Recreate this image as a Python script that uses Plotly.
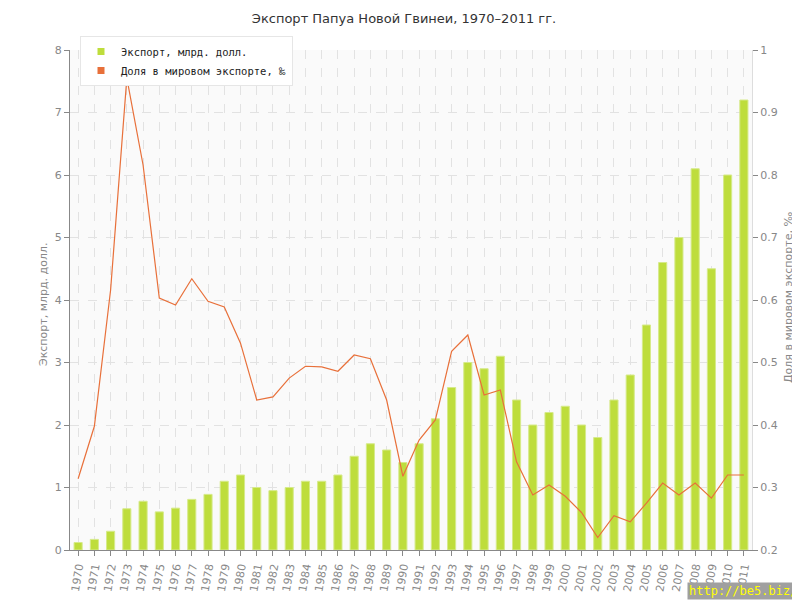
import plotly.graph_objects as go

years = [str(y) for y in range(1970, 2012)]
export_bn = [0.12, 0.17, 0.3, 0.66, 0.78, 0.61, 0.67, 0.81, 0.89, 1.1,
             1.2, 1.0, 0.95, 1.0, 1.1, 1.1, 1.2, 1.5, 1.7, 1.6,
             1.4, 1.7, 2.1, 2.6, 3.0, 2.9, 3.1, 2.4, 2.0, 2.2,
             2.3, 2.0, 1.8, 2.4, 2.8, 3.6, 4.6, 5.0, 6.1, 4.5,
             6.0, 7.2]
share_permille = [0.314, 0.398, 0.616, 0.955, 0.816, 0.603, 0.592, 0.634, 0.598, 0.589,
                  0.531, 0.44, 0.445, 0.475, 0.494, 0.493, 0.486, 0.512, 0.506, 0.44,
                  0.318, 0.376, 0.408, 0.518, 0.544, 0.448, 0.456, 0.341, 0.288, 0.304,
                  0.286, 0.26, 0.22, 0.255, 0.245, 0.275, 0.307, 0.288, 0.307, 0.283,
                  0.32, 0.32]

bar_color = "#bedd3c"
line_color = "#e8703a"
grey = "#888888"
name_bar = "Экспорт, млрд. долл."
name_line = "Доля в мировом экспорте, ‰"

fig = go.Figure()
fig.add_trace(go.Bar(
    x=years, y=export_bn, name=name_bar, showlegend=False,
    marker=dict(color=bar_color, line=dict(color="#d6ea8a", width=1)),
    yaxis="y",
))
fig.add_trace(go.Scatter(
    x=years, y=share_permille, name=name_line, showlegend=False,
    mode="lines", line=dict(color=line_color, width=1.2),
    yaxis="y2",
))
# legend-only entries with square markers
for nm, col in [(name_bar, bar_color), (name_line, line_color)]:
    fig.add_trace(go.Scatter(
        x=[None], y=[None], name=nm, mode="markers",
        marker=dict(symbol="square", size=7, color=col),
    ))

W, H = 792, 592  # page has 8px body margin
L, R, T, B = 62, 48, 42, 50
pw = W - L - R
ph = H - T - B

def px_x(x_screen):
    return (x_screen - 8 - L) / pw

def px_y(y_screen):
    return 1 - (y_screen - 8 - T) / ph

axis_title_font = dict(family="DejaVu Sans", size=11, color=grey)

fig.update_layout(
    width=W, height=H,
    paper_bgcolor="white", plot_bgcolor="#fafafa",
    margin=dict(l=L, r=R, t=T, b=B, autoexpand=False),
    bargap=0.5,
    showlegend=True,
    title=dict(text="Экспорт Папуа Новой Гвинеи, 1970–2011 гг.",
               x=0.5, xanchor="center", y=1 - 10 / H, yanchor="middle",
               font=dict(family="DejaVu Sans", size=13, color="#333333")),
    legend=dict(x=px_x(80), y=px_y(36), xanchor="left", yanchor="top",
                bgcolor="white", bordercolor="#e6e6e6", borderwidth=1,
                font=dict(family="DejaVu Sans Mono", size=10.5, color="#222222"),
                itemwidth=30, tracegroupgap=0),
    xaxis=dict(
        type="category", showgrid=True, gridcolor="#e2e2e2", griddash="dash",
        tickangle=-80, tickfont=dict(family="DejaVu Sans", size=11, color=grey),
        showline=True, linecolor=grey, ticks="outside", ticklen=5, tickcolor=grey,
        zeroline=False, automargin=False,
    ),
    yaxis=dict(
        range=[0, 8], dtick=1, showgrid=True, gridcolor="#e2e2e2", griddash="dash",
        tickfont=dict(family="DejaVu Sans", size=11, color=grey),
        showline=True, linecolor=grey, ticks="outside", ticklen=5, tickcolor=grey,
        zeroline=False, automargin=False,
    ),
    yaxis2=dict(
        range=[0.2, 1.0], dtick=0.1, overlaying="y", side="right", showgrid=False,
        tickfont=dict(family="DejaVu Sans", size=11, color=grey),
        showline=True, linecolor="#dddddd", ticks="outside", ticklen=5, tickcolor=grey,
        zeroline=False, automargin=False,
    ),
    annotations=[
        dict(text=name_bar, xref="paper", yref="paper", x=px_x(43), y=px_y(305),
             xanchor="center", yanchor="middle", textangle=-90, showarrow=False,
             font=axis_title_font),
        dict(text=name_line, xref="paper", yref="paper", x=px_x(788), y=px_y(298),
             xanchor="center", yanchor="middle", textangle=-90, showarrow=False,
             font=axis_title_font),
        dict(text="http://be5.biz/", xref="paper", yref="paper", x=px_x(799), y=px_y(600),
             xanchor="right", yanchor="bottom", showarrow=False,
             font=dict(family="DejaVu Sans Mono", size=12, color="#ffff00"),
             bgcolor="#a0a0a0", borderpad=1),
    ],
)

fig.write_html("out.html")
